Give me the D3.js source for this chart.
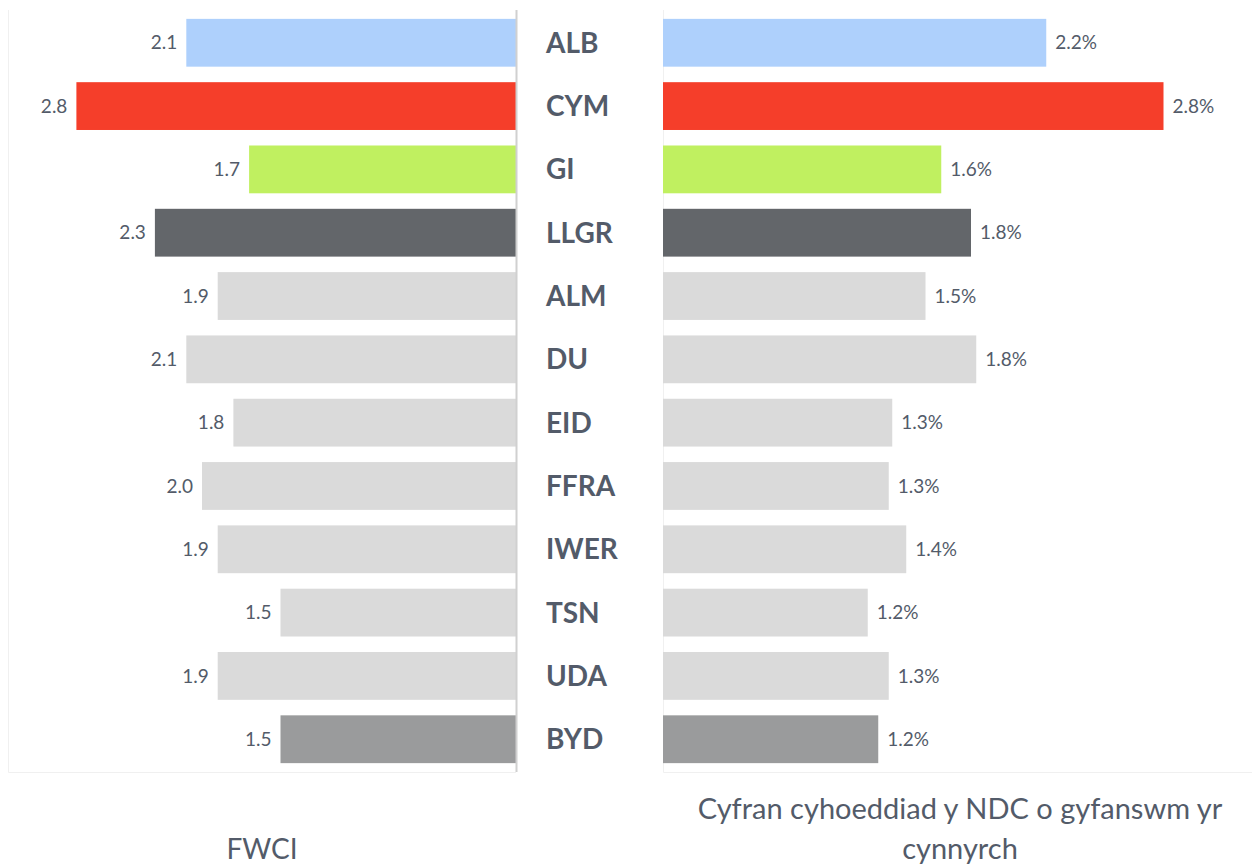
<!DOCTYPE html>
<html>
<head>
<meta charset="utf-8">
<script src="https://cdn.jsdelivr.net/npm/d3@7/dist/d3.min.js"></script>
<style>
  body { margin: 0; background: #fff; }
  svg text { font-family: Lato, "Open Sans", sans-serif; }
</style>
</head>
<body>
<svg id="chart" width="1252" height="868"></svg>
<script>
var categories = ["ALB", "CYM", "GI", "LLGR", "ALM", "DU", "EID", "FFRA", "IWER", "TSN", "UDA", "BYD"];
var fwci = [2.1, 2.8, 1.7, 2.3, 1.9, 2.1, 1.8, 2.0, 1.9, 1.5, 1.9, 1.5];
// share of output (%); labels as printed
var share = [2.19, 2.86, 1.59, 1.76, 1.50, 1.79, 1.31, 1.29, 1.39, 1.17, 1.29, 1.23];
var shareLabels = ["2.2%", "2.8%", "1.6%", "1.8%", "1.5%", "1.8%", "1.3%", "1.3%", "1.4%", "1.2%", "1.3%", "1.2%"];
var colors = ["#aed0fc", "#f53e2a", "#c0f060", "#63666a", "#dadada", "#dadada",
              "#dadada", "#dadada", "#dadada", "#dadada", "#dadada", "#9a9b9c"];

var svg = d3.select('svg#chart');
var textColor = "#535b69";

var y = d3.scaleBand()
    .domain(categories)
    .range([10, 772])
    .paddingInner(0.245)
    .paddingOuter(0.14);

// left panel: bars grow leftwards from the axis
var xL = d3.scaleLinear().domain([0, 1]).range([516, 359]);
// right panel
var xR = d3.scaleLinear().domain([0, 1]).range([663, 838]);

// panel frames
svg.append('path')
    .attr('d', 'M8.5 10 V772.5 H516')
    .attr('fill', 'none')
    .attr('stroke', '#f0f0f0');
svg.append('path')
    .attr('d', 'M663.5 10 V772.5 H1252')
    .attr('fill', 'none')
    .attr('stroke', '#f0f0f0');

svg.append('g').selectAll('rect')
    .data(categories)
    .enter().append('rect')
    .attr('x', (d, i) => xL(fwci[i]))
    .attr('y', d => y(d))
    .attr('width', (d, i) => xL(0) - xL(fwci[i]))
    .attr('height', y.bandwidth())
    .attr('fill', (d, i) => colors[i]);

svg.append('line')
    .attr('x1', 516.5).attr('x2', 516.5)
    .attr('y1', 10).attr('y2', 772)
    .attr('stroke', '#d0d0d0')
    .attr('stroke-width', 2);

svg.append('g').selectAll('text')
    .data(categories)
    .enter().append('text')
    .attr('x', (d, i) => xL(fwci[i]) - 9)
    .attr('y', d => y(d) + y.bandwidth() / 2)
    .attr('dy', '0.35em')
    .attr('text-anchor', 'end')
    .attr('font-size', 19)
    .attr('fill', textColor)
    .text((d, i) => d3.format('.1f')(fwci[i]));

svg.append('g').selectAll('rect')
    .data(categories)
    .enter().append('rect')
    .attr('x', xR(0))
    .attr('y', d => y(d))
    .attr('width', (d, i) => xR(share[i]) - xR(0))
    .attr('height', y.bandwidth())
    .attr('fill', (d, i) => colors[i]);

svg.append('g').selectAll('text')
    .data(categories)
    .enter().append('text')
    .attr('x', (d, i) => xR(share[i]) + 9)
    .attr('y', d => y(d) + y.bandwidth() / 2)
    .attr('dy', '0.35em')
    .attr('font-size', 19)
    .attr('fill', textColor)
    .text((d, i) => shareLabels[i]);

// category names in the gap
svg.append('g').selectAll('text')
    .data(categories)
    .enter().append('text')
    .attr('x', 546)
    .attr('y', d => y(d) + y.bandwidth() / 2)
    .attr('dy', '0.36em')
    .attr('font-size', 28)
    .attr('font-weight', 'bold')
    .attr('fill', textColor)
    .text(d => d);

// panel titles
svg.append('text')
    .attr('x', 262).attr('y', 859)
    .attr('text-anchor', 'middle')
    .attr('font-size', 28)
    .attr('fill', textColor)
    .text('FWCI');

var title = svg.append('text')
    .attr('x', 960).attr('y', 819)
    .attr('text-anchor', 'middle')
    .attr('font-size', 29)
    .attr('fill', textColor);
title.append('tspan').attr('x', 960).text('Cyfran cyhoeddiad y NDC o gyfanswm yr');
title.append('tspan').attr('x', 960).attr('dy', 40).text('cynnyrch');
</script>
</body>
</html>
